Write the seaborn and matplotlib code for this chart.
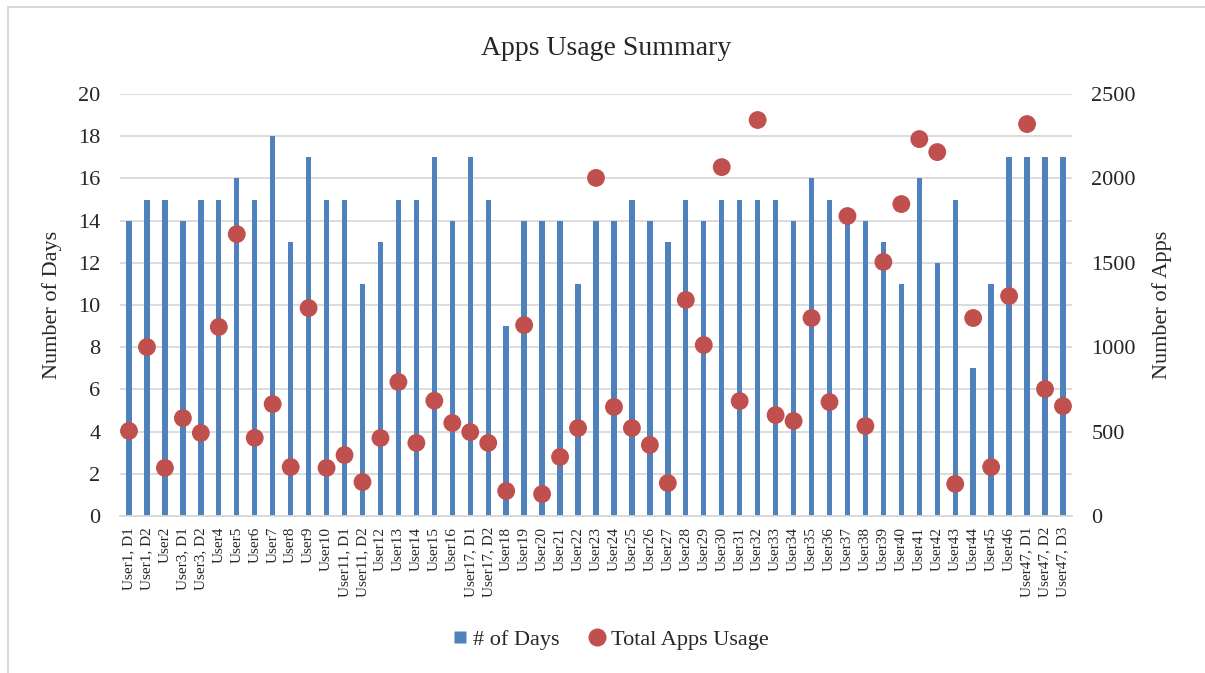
import numpy as np
import pandas as pd
import matplotlib
matplotlib.use('Agg')
import matplotlib.pyplot as plt
from matplotlib.lines import Line2D
import seaborn as sns

# data

users = ['User1, D1', 'User1, D2', 'User2', 'User3, D1', 'User3, D2', 'User4', 'User5',
         'User6', 'User7', 'User8', 'User9', 'User10', 'User11, D1', 'User11, D2',
         'User12', 'User13', 'User14', 'User15', 'User16', 'User17, D1', 'User17, D2',
         'User18', 'User19', 'User20', 'User21', 'User22', 'User23', 'User24', 'User25',
         'User26', 'User27', 'User28', 'User29', 'User30', 'User31', 'User32', 'User33',
         'User34', 'User35', 'User36', 'User37', 'User38', 'User39', 'User40', 'User41',
         'User42', 'User43', 'User44', 'User45', 'User46', 'User47, D1', 'User47, D2',
         'User47, D3']

num_days = [14, 15, 15, 14, 15, 15, 16, 15, 18, 13, 17, 15, 15, 11, 13, 15, 15, 17, 14,
            17, 15, 9, 14, 14, 14, 11, 14, 14, 15, 14, 13, 15, 14, 15, 15, 15, 15, 14, 16,
            15, 14, 14, 13, 11, 16, 12, 15, 7, 11, 17, 17, 17, 17]

total_apps = [504, 1001, 285, 580, 492, 1120, 1670, 463, 663, 290, 1232, 285, 361, 201,
              462, 794, 433, 683, 551, 497, 433, 148, 1131, 130, 350, 521, 2003, 646, 521,
              421, 195, 1280, 1013, 2067, 681, 2346, 598, 563, 1173, 675, 1777, 533, 1505,
              1848, 2233, 2156, 190, 1173, 290, 1303, 2322, 752, 651]

df = pd.DataFrame({'user': users, 'days': num_days, 'apps': total_apps})

bar_color = '#4F81BD'
dot_color = '#C0504D'

sns.set_style('white')
plt.rcParams['font.family'] = ['Liberation Serif', 'DejaVu Serif']

fig = plt.figure(figsize=(12.05, 6.73), dpi=100)
ax = fig.add_axes([0.0996, 0.2333, 0.79, 0.627])

# bars on the left axis

sns.barplot(data=df, x='user', y='days', color=bar_color, width=0.3,
            saturation=1, linewidth=0, ax=ax, zorder=2)
ax.set_ylim(0, 20)
ax.set_yticks(range(0, 21, 2))
ax.set_xlim(-0.5, len(users) - 0.5)
ax.yaxis.grid(True, color='#D9D9D9', linewidth=1.3, zorder=0)
ax.set_axisbelow(True)
ax.set_xlabel('')
ax.set_ylabel('Number of Days', fontsize=16, labelpad=12)
ax.tick_params(axis='y', labelsize=16, length=0, pad=14)
ax.tick_params(axis='x', labelsize=11, length=0, pad=8)
plt.setp(ax.get_xticklabels(), rotation=90)
for side in ['top', 'right', 'left']:
    ax.spines[side].set_visible(False)
ax.spines['bottom'].set_color('#D9D9D9')
ax.spines['bottom'].set_linewidth(1.3)

# dots on the right axis

ax2 = ax.twinx()
sns.scatterplot(data=df, x='user', y='apps', color=dot_color, s=165,
                edgecolor='none', ax=ax2, zorder=3)
ax2.set_ylim(0, 2500)
ax2.set_yticks(range(0, 2501, 500))
ax2.set_xlim(-0.5, len(users) - 0.5)
ax2.set_ylabel('Number of Apps', fontsize=16, labelpad=12)
ax2.tick_params(axis='y', labelsize=16, length=0, pad=14)
for side in ['top', 'right', 'left', 'bottom']:
    ax2.spines[side].set_visible(False)

fig.suptitle('Apps Usage Summary', fontsize=20, x=0.503, y=0.947)

# legend

handles = [Line2D([0], [0], marker='s', color='none', markerfacecolor=bar_color,
                  markeredgecolor='none', markersize=9, label='# of Days'),
           Line2D([0], [0], marker='o', color='none', markerfacecolor=dot_color,
                  markeredgecolor='none', markersize=13, label='Total Apps Usage')]
fig.legend(handles=handles, loc='center', bbox_to_anchor=(0.505, 0.05), ncol=2,
           frameon=False, fontsize=16, handletextpad=0.1, columnspacing=1.2,
           handlelength=1.0)

# outer frame lines (left and top)

fig.add_artist(Line2D([0.0066, 0.0066], [0, 0.9896], transform=fig.transFigure,
                      color='#D9D9D9', linewidth=1.5))
fig.add_artist(Line2D([0.0066, 1], [0.9896, 0.9896], transform=fig.transFigure,
                      color='#D9D9D9', linewidth=1.5))

plt.savefig('out.png', dpi=100)
